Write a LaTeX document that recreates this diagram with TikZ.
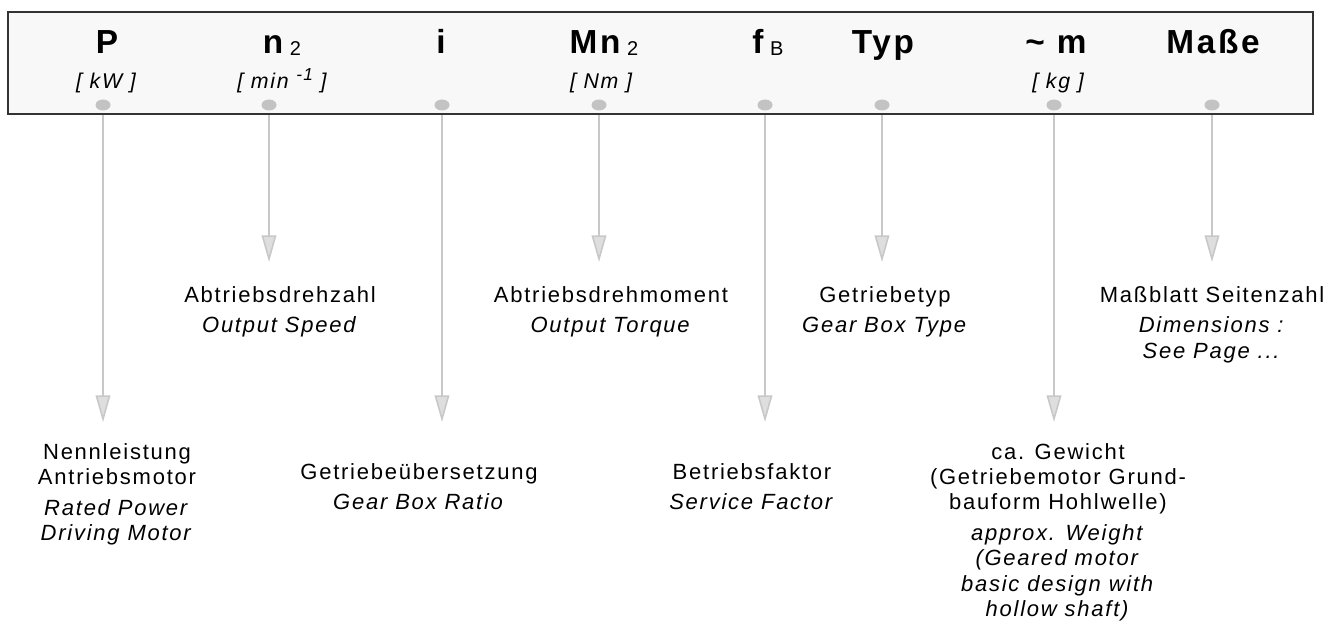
\documentclass[tikz,border=0pt]{standalone}
\usepackage{fontspec}
\setmainfont[LetterSpace=8]{Liberation Sans}
\usetikzlibrary{arrows.meta,shapes.geometric}
\definecolor{frameGray}{RGB}{51,51,51}
\definecolor{panelGray}{RGB}{248,248,248}
\definecolor{dotGray}{RGB}{195,195,195}
\definecolor{leadGray}{RGB}{200,200,200}
\definecolor{tipGray}{RGB}{222,222,222}

\newcommand{\lowidx}[1]{\hspace{5pt}\raisebox{-1.5pt}{\fontsize{15}{15}\selectfont\mdseries #1}}
\newcommand{\upidx}[1]{\raisebox{6pt}{\fontsize{13}{13}\selectfont #1}}

\begin{document}
\begin{tikzpicture}[x=0.75pt,y=-0.75pt,
    panel/.style={draw=frameGray, line width=1.3pt, fill=panelGray, minimum width=978.75pt, minimum height=76.5pt, inner sep=0pt},
    colHead/.style={font=\fontsize{25}{28}\selectfont\bfseries, anchor=base, inner sep=0pt},
    colUnit/.style={font=\fontsize{16}{19}\selectfont\itshape, anchor=base, inner sep=0pt},
    pinDot/.style={ellipse, fill=dotGray, minimum width=11.25pt, minimum height=8.25pt, inner sep=0pt},
    lead/.style={draw=leadGray, line width=1.2pt, -{Triangle[width=11pt,length=20pt,fill=tipGray]}},
    colNote/.style={font=\fontsize{16.5}{19}\selectfont, align=center, anchor=north, inner sep=0pt}]
      \useasboundingbox (0,0) rectangle (1334,624);

      % header strip
      \node[panel] (panel) at (660.5,63) {};

      \node[colHead] (hP) at (107,54) {P};
      \node[colHead] (hN) at (282,54) {n\lowidx{2}};
      \node[colHead] (hI) at (441,54) {i};
      \node[colHead] (hM) at (604,54) {Mn\lowidx{2}};
      \node[colHead] (hF) at (768,54) {f\lowidx{B}};
      \node[colHead] (hT) at (883,54) {Typ};
      \node[colHead] (hW) at (1056,54) {\textasciitilde{} m};
      \node[colHead] (hD) at (1213,54) {Maße};

      \node[colUnit] (uP) at (106,89) {[ kW ]};
      \node[colUnit] (uN) at (282,89) {[ min \upidx{-1} ]};
      \node[colUnit] (uM) at (601,89) {[ Nm ]};
      \node[colUnit] (uW) at (1058,89) {[ kg ]};

      \node[pinDot] (dP) at (103,105) {};
      \node[pinDot] (dN) at (269,105) {};
      \node[pinDot] (dI) at (442,105) {};
      \node[pinDot] (dM) at (599,105) {};
      \node[pinDot] (dF) at (765,105) {};
      \node[pinDot] (dT) at (882,105) {};
      \node[pinDot] (dW) at (1054,105) {};
      \node[pinDot] (dD) at (1212,105) {};

      % arrow ends: short ones to the upper row, long ones to the lower row
      \coordinate (eN) at (269,262);
      \coordinate (eM) at (599,262);
      \coordinate (eT) at (882,262);
      \coordinate (eD) at (1212,262);
      \coordinate (eP) at (103,422);
      \coordinate (eI) at (442,422);
      \coordinate (eF) at (765,422);
      \coordinate (eW) at (1054,422);

      \draw[lead] (dP |- panel.south) -- (eP);
      \draw[lead] (dN |- panel.south) -- (eN);
      \draw[lead] (dI |- panel.south) -- (eI);
      \draw[lead] (dM |- panel.south) -- (eM);
      \draw[lead] (dF |- panel.south) -- (eF);
      \draw[lead] (dT |- panel.south) -- (eT);
      \draw[lead] (dW |- panel.south) -- (eW);
      \draw[lead] (dD |- panel.south) -- (eD);

      % upper row of notes
      \node[colNote] (tN) at (280,286) {Abtriebsdrehzahl\\[4pt]\textit{Output Speed}};
      \node[colNote] (tM) at (611,286) {Abtriebsdrehmoment\\[4pt]\textit{Output Torque}};
      \node[colNote] (tT) at (885,286) {Getriebetyp\\[4pt]\textit{Gear Box Type}};
      \node[colNote] (tD) at (1212,286) {Maßblatt Seitenzahl\\[4pt]\textit{Dimensions :}\\\textit{See Page ...}};

      % lower row of notes
      \node[colNote] (tP) at (117,443) {Nennleistung\\Antriebsmotor\\[4pt]\textit{Rated Power}\\\textit{Driving Motor}};
      \node[colNote] (tI) at (419,463) {Getriebeübersetzung\\[4pt]\textit{Gear Box Ratio}};
      \node[colNote] (tF) at (752,463) {Betriebsfaktor\\[4pt]\textit{Service Factor}};
      \node[colNote] (tW) at (1058,443) {ca. Gewicht\\(Getriebemotor Grund-\\bauform Hohlwelle)\\[4pt]\textit{approx. Weight}\\\textit{(Geared motor}\\\textit{basic design with}\\\textit{hollow shaft)}};
    \end{tikzpicture}
\end{document}
